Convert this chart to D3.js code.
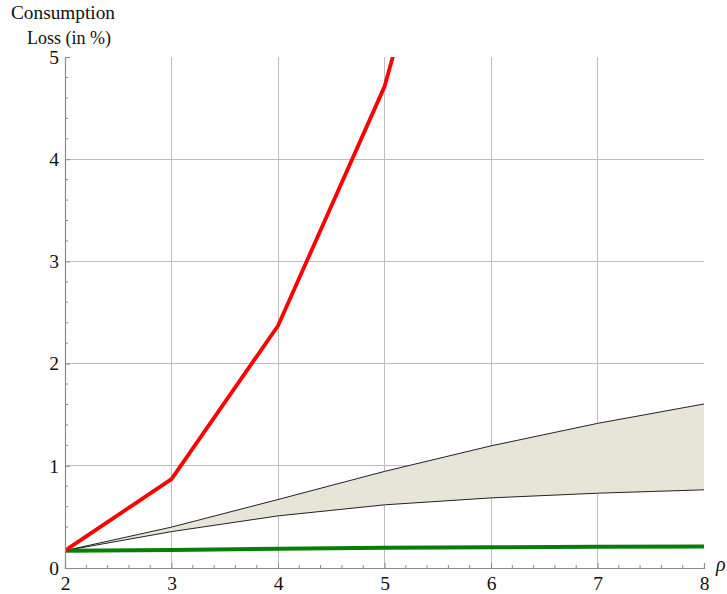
<!DOCTYPE html>
<html>
<head>
<meta charset="utf-8">
<script src="https://cdn.jsdelivr.net/npm/d3@7"></script>
<style>
  html, body { margin: 0; padding: 0; background: #fff; }
  svg { display: block; }
  text { font-family: "Liberation Serif", "DejaVu Serif", serif; }
</style>
</head>
<body>
<svg id="chart" width="727" height="594"></svg>
<script>
// rho values at which each curve is evaluated
const rho = [2, 3, 4, 5, 6, 7, 8];
// consumption loss (in %) for each scenario
const redLoss   = [0.17, 0.87, 2.37, 4.71, 8.45];          // steep case, leaves the frame after rho = 5
const bandUpper = [0.17, 0.40, 0.67, 0.945, 1.195, 1.415, 1.605];
const bandLower = [0.17, 0.356, 0.51, 0.618, 0.686, 0.732, 0.765];
const greenLoss = [0.17, 0.177, 0.189, 0.198, 0.203, 0.207, 0.21];
// axis ticks
const xTicks = [2, 3, 4, 5, 6, 7, 8];
const yTicks = [0, 1, 2, 3, 4, 5];

const svg = d3.select("#chart");
const margin = { left: 65, right: 23, top: 57, bottom: 26 };
const W = 727, H = 594;
const fontFamily = "Liberation Serif, DejaVu Serif, serif";

const x = d3.scaleLinear().domain([2, 8]).range([margin.left, W - margin.right]);
const y = d3.scaleLinear().domain([0, 5]).range([H - margin.bottom, margin.top]);

svg.append("defs").append("clipPath").attr("id", "plotClip")
  .append("rect")
  .attr("x", x(2)).attr("y", y(5))
  .attr("width", x(8) - x(2)).attr("height", y(0) - y(5));

// grid lines
const grid = svg.append("g");
grid.selectAll("line.vx").data(xTicks.filter(d => d > 2 && d < 8)).join("line")
  .attr("x1", d => x(d)).attr("x2", d => x(d))
  .attr("y1", y(0)).attr("y2", y(5))
  .attr("stroke", "#bdbdbd").attr("stroke-width", 1).attr("shape-rendering", "crispEdges");
grid.selectAll("line.hy").data(yTicks.filter(d => d > 0 && d < 5)).join("line")
  .attr("x1", x(2)).attr("x2", x(8))
  .attr("y1", d => y(d)).attr("y2", d => y(d))
  .attr("stroke", "#bdbdbd").attr("stroke-width", 1).attr("shape-rendering", "crispEdges");

const plot = svg.append("g").attr("clip-path", "url(#plotClip)");

// shaded band between the two bounds
const bandData = rho.map((r, i) => ({ r, lo: bandLower[i], hi: bandUpper[i] }));
plot.append("path")
  .datum(bandData)
  .attr("fill", "#e7e5d8")
  .attr("d", d3.area().x(d => x(d.r)).y0(d => y(d.lo)).y1(d => y(d.hi)));

const line = d3.line().x(d => x(d[0])).y(d => y(d[1]));
plot.append("path").datum(rho.map((r, i) => [r, bandUpper[i]]))
  .attr("fill", "none").attr("stroke", "#222").attr("stroke-width", 1).attr("d", line);
plot.append("path").datum(rho.map((r, i) => [r, bandLower[i]]))
  .attr("fill", "none").attr("stroke", "#222").attr("stroke-width", 1).attr("d", line);

// green curve
plot.append("path").datum(rho.map((r, i) => [r, greenLoss[i]]))
  .attr("fill", "none").attr("stroke", "#087d08").attr("stroke-width", 4)
  .attr("stroke-linejoin", "round").attr("d", line);

// red curve
plot.append("path").datum(redLoss.map((v, i) => [rho[i], v]))
  .attr("fill", "none").attr("stroke", "#ff0000").attr("stroke-width", 3.8)
  .attr("stroke-linejoin", "round").attr("d", line);

// axes
const axisColor = "#8a8a8a";
const xMinor = d3.range(2, 8.001, 0.2).filter(v => Math.abs(v - Math.round(v)) > 1e-6);
const yMinor = d3.range(0, 5.001, 0.2).filter(v => Math.abs(v - Math.round(v)) > 1e-6);

const xAxis = svg.append("g").attr("transform", `translate(0,${y(0)})`)
  .call(d3.axisBottom(x).tickValues(xTicks).tickSize(-5).tickPadding(8).tickFormat(d3.format("d")));
const yAxis = svg.append("g").attr("transform", `translate(${x(2)},0)`)
  .call(d3.axisLeft(y).tickValues(yTicks).tickSize(-5).tickPadding(6).tickFormat(d3.format("d")));

[xAxis, yAxis].forEach(g => {
  g.attr("font-family", fontFamily).attr("font-size", 19.5);
  g.select(".domain").attr("stroke", axisColor).attr("stroke-width", 1.2);
  g.selectAll(".tick line").attr("stroke", axisColor);
  g.selectAll(".tick text").attr("fill", "#111");
});

xAxis.selectAll("line.minor").data(xMinor).join("line").attr("class", "minor")
  .attr("x1", d => x(d)).attr("x2", d => x(d)).attr("y1", 0).attr("y2", -3)
  .attr("stroke", axisColor);
yAxis.selectAll("line.minor").data(yMinor).join("line").attr("class", "minor")
  .attr("y1", d => y(d)).attr("y2", d => y(d)).attr("x1", 0).attr("x2", 3)
  .attr("stroke", axisColor);

// axis titles
svg.append("text").attr("x", 11).attr("y", 19).attr("font-size", 19.3).attr("fill", "#111")
  .text("Consumption");
svg.append("text").attr("x", 27).attr("y", 44).attr("font-size", 18).attr("fill", "#111")
  .text("Loss (in %)");
svg.append("text").attr("x", 716).attr("y", 571).attr("font-size", 20).attr("font-style", "italic")
  .attr("fill", "#111").text("ρ");
</script>
</body>
</html>
